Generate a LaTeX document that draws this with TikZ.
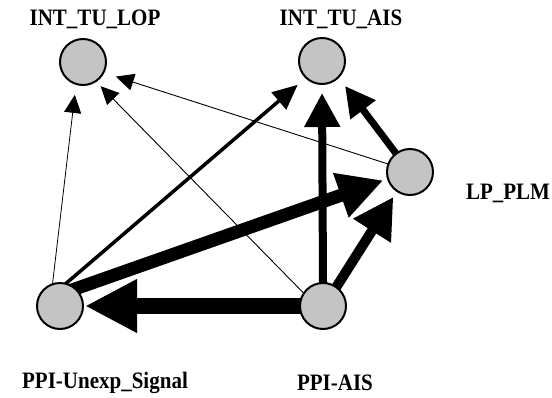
\documentclass[tikz,border=0pt]{standalone}
\usepackage{fontspec}
\usepackage{graphicx}
\setmainfont{Liberation Serif}
\usetikzlibrary{arrows.meta,backgrounds}
\newcommand{\lbltxt}[1]{\scalebox{1}[1.12]{#1}}
\begin{document}
\begin{tikzpicture}[x=1pt,y=-1pt,
  vtx/.style={circle,draw=black,line width=2pt,fill=black!23,minimum size=46pt,inner sep=0pt},
  lbl/.style={anchor=base,font=\fontsize{21}{24}\selectfont\bfseries,inner sep=0pt},
  edg/.style={draw=black,shorten <=-6pt},
]
\useasboundingbox (0,0) rectangle (552,397);
\node[vtx] (lop)  at (83,62) {};
\node[vtx] (ais)  at (322,61) {};
\node[vtx] (lp)   at (410,172) {};
\node[vtx] (unx)  at (60,306) {};
\node[vtx] (pais) at (323,306) {};
\node[lbl] (llop)  at (95,25)   {\lbltxt{INT\_TU\_LOP}};
\node[lbl] (lais)  at (341,25)  {\lbltxt{INT\_TU\_AIS}};
\node[lbl] (llp)   at (508,199) {\lbltxt{LP\_PLM}};
\node[lbl] (lunx)  at (105,388) {\lbltxt{PPI-Unexp\_Signal}};
\node[lbl] (lpais) at (335,390) {\lbltxt{PPI-AIS}};
\begin{scope}[on background layer]
\draw[edg,line width=0.8pt,shorten >=10pt,-{Triangle[length=18pt,width=17pt]}] (unx.108) -- (lop.-107);
\draw[edg,line width=0.9pt,shorten >=6pt,-{Triangle[length=18pt,width=17pt]}] (pais.146) -- (lop.-56);
\draw[edg,line width=0.9pt,shorten >=12pt,-{Triangle[length=18pt,width=17pt]}] (lp.160) -- (lop.-27);
\draw[edg,line width=3.5pt,shorten >=10pt,-{Triangle[length=25pt,width=22pt]}] (unx.74) -- (ais.-134);
\draw[edg,line width=8pt,shorten >=8pt,-{Triangle[length=34pt,width=34pt]}] (pais.90) -- (ais.-90);
\draw[edg,line width=7pt,shorten >=10pt,-{Triangle[length=30pt,width=30pt]}] (lp.127) -- (ais.-45);
\draw[edg,line width=13pt,shorten >=4pt,-{Triangle[length=45pt,width=44pt]}] (unx.47) -- (lp.-163);
\draw[edg,line width=10pt,shorten >=6pt,-{Triangle[length=40pt,width=42pt]}] (pais.55) -- (lp.-124);
\draw[edg,line width=16pt,shorten >=1pt,-{Triangle[length=52pt,width=50pt]}] (pais.180) -- (unx.0);
\end{scope}
\end{tikzpicture}
\end{document}
